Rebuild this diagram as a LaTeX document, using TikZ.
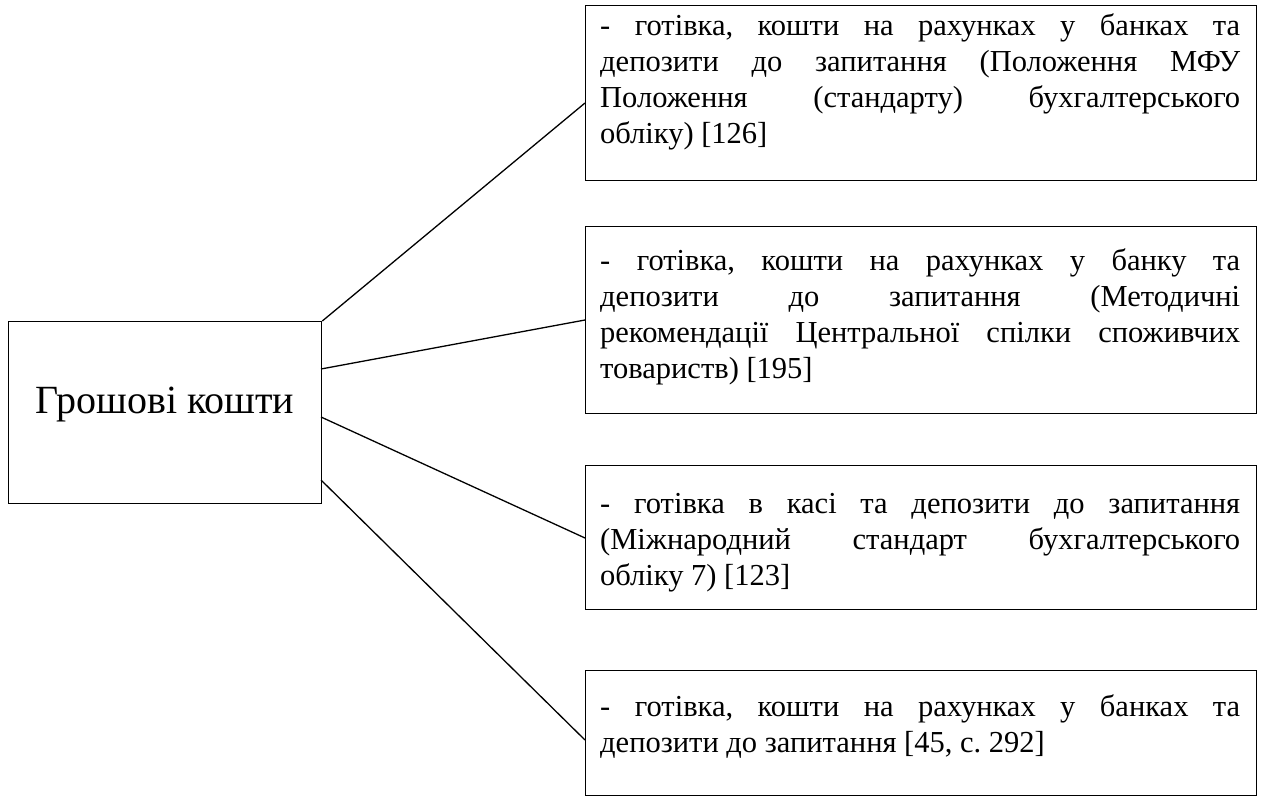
\documentclass[tikz,border=0pt]{standalone}
\usepackage{fontspec}
\setmainfont{Liberation Serif}
\pretolerance=-1
\tolerance=10000
\hyphenpenalty=10000
\emergencystretch=20pt
\frenchspacing
\begin{document}
\begin{tikzpicture}[x=1pt,y=-1pt,
  frame/.style={draw=black,line width=1.3pt,inner sep=0pt,anchor=north west},
  boxtext/.style={anchor=base west,inner sep=0pt,text width=640pt,align=justify,
    font=\fontsize{30.5}{36}\selectfont},
  conn/.style={draw=black,line width=1.3pt}]
\useasboundingbox (0,0) rectangle (1262,798);
% left box
\node[frame,minimum width=313pt,minimum height=182pt] (lb) at (8,321) {};
\node[inner sep=0pt,anchor=base,font=\fontsize{40}{46}\selectfont] (lbt) at (165,413) {Грошові кошти};
% right boxes
\node[frame,minimum width=671pt,minimum height=175pt] (b1) at (585,5) {};
\node[frame,minimum width=671pt,minimum height=187pt] (b2) at (585,226) {};
\node[frame,minimum width=671pt,minimum height=144pt] (b3) at (585,465) {};
\node[frame,minimum width=671pt,minimum height=125pt] (b4) at (585,670) {};
\node[boxtext] (t1) at (600,35) {- готівка, кошти на рахунках у банках та\linebreak депозити до запитання (Положення МФУ\linebreak Положення (стандарту) бухгалтерського\linebreak обліку) [126]};
\node[boxtext] (t2) at (600,270) {- готівка, кошти на рахунках у банку та\linebreak депозити до запитання (Методичні\linebreak рекомендації Центральної спілки споживчих\linebreak товариств) [195]};
\node[boxtext] (t3) at (600,513) {- готівка в касі та депозити до запитання\linebreak (Міжнародний стандарт бухгалтерського\linebreak обліку 7) [123]};
\node[boxtext] (t4) at (600,716) {- готівка, кошти на рахунках у банках та\linebreak депозити до запитання [45, с. 292]};
% connector ends
\coordinate (s2) at (321,369);
\coordinate (s3) at (321,417);
\coordinate (s4) at (321,480);
\coordinate (e1) at (585,103);
\coordinate (e2) at (585,320);
\coordinate (e3) at (585,538);
\coordinate (e4) at (585,740);
\draw[conn] (lb.north east) -- (e1);
\draw[conn] (s2) -- (e2);
\draw[conn] (s3) -- (e3);
\draw[conn] (s4) -- (e4);
\end{tikzpicture}
\end{document}
